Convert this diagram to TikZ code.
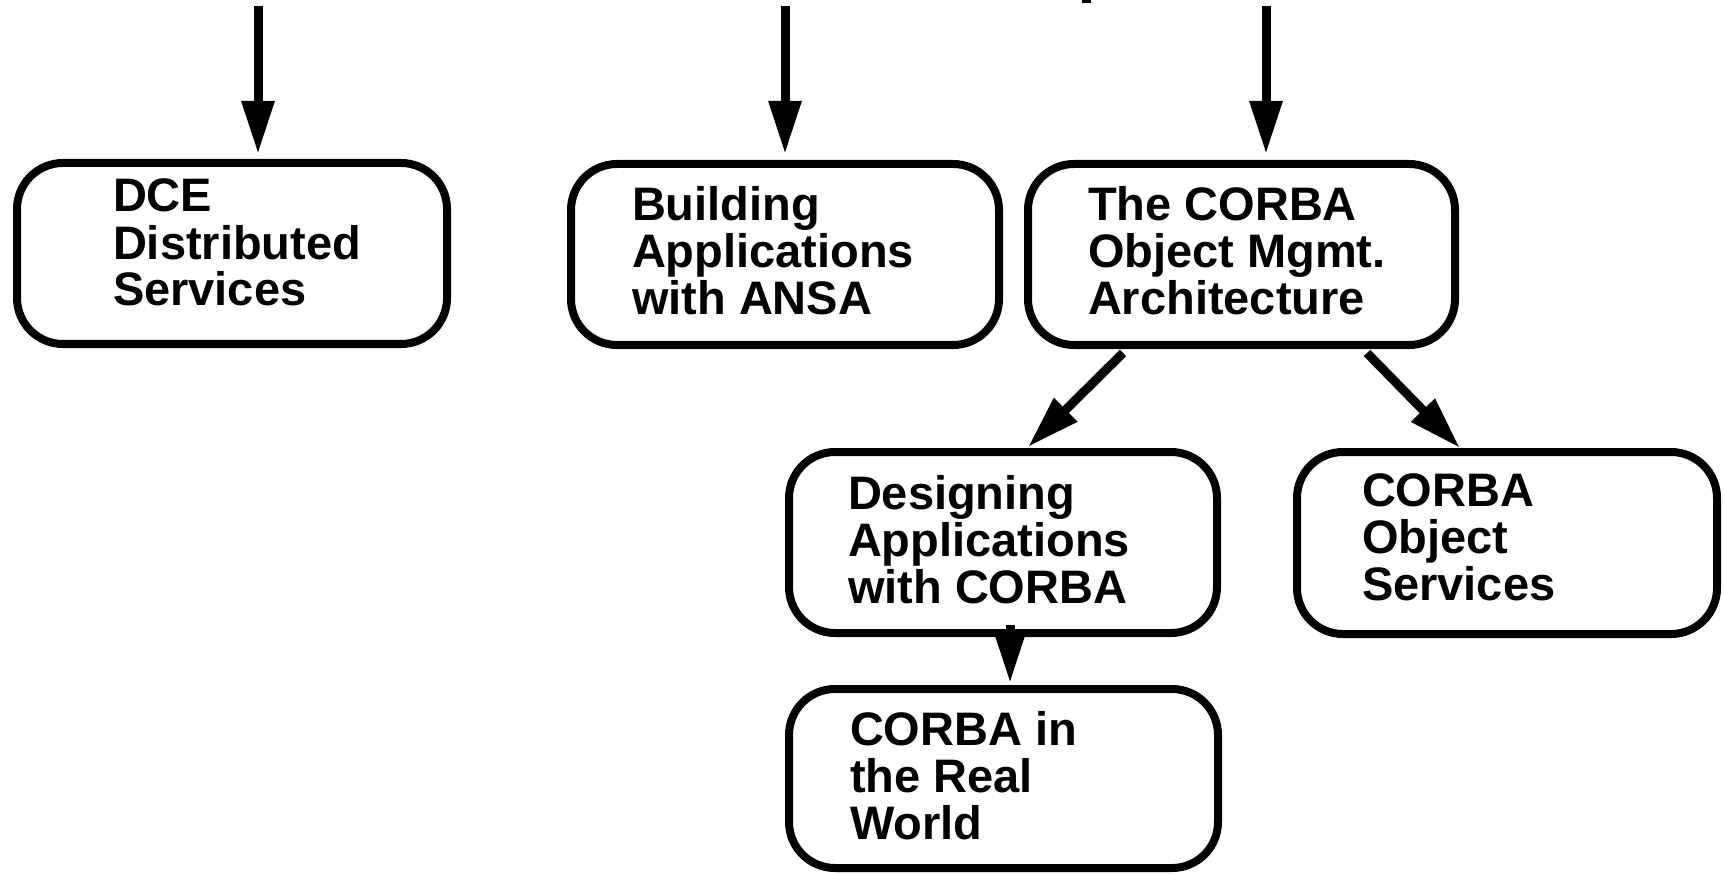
\documentclass[tikz,border=0pt]{standalone}
\usepackage{fontspec}
\setmainfont{Liberation Sans}
\usetikzlibrary{arrows.meta,calc}
\begin{document}
\begin{tikzpicture}[x=1pt,y=-1pt,
  box/.style={draw=black,line width=8pt,rounded corners=46pt,rectangle,inner sep=0pt,outer sep=0pt},
  lbl/.style={anchor=base west,align=left,inner sep=0pt,outer sep=0pt,font=\fontsize{47}{47}\selectfont\bfseries},
  arr/.style={line width=9pt,-{Triangle[length=53pt,width=31pt]}}]
\useasboundingbox (0,0) rectangle (1723,874);
% boxes
\node[box,minimum width=430pt,minimum height=181pt] (dce) at (232,253.5) {};
\node[box,minimum width=428pt,minimum height=181pt] (bld) at (785,254.5) {};
\node[box,minimum width=427pt,minimum height=181pt] (oma) at (1241.5,254.5) {};
\node[box,minimum width=428pt,minimum height=181pt] (des) at (1003,542.5) {};
\node[box,minimum width=420pt,minimum height=182pt] (cos) at (1507,543) {};
\node[box,minimum width=429pt,minimum height=179pt] (crw) at (1003.5,778.5) {};
% texts (anchored at the baseline of the last line)
\node[lbl] (tdce) at (113,306) {DCE\\Distributed\\Services};
\node[lbl] (tbld) at (632,315) {Building\\Applications\\with ANSA};
\node[lbl] (toma) at (1088,315) {The CORBA\\Object Mgmt.\\Architecture};
\node[lbl] (tdes) at (848,603) {Designing\\Applications\\with CORBA};
\node[lbl] (tcos) at (1362,600) {CORBA\\Object\\Services};
\node[lbl] (tcrw) at (850,839) {CORBA in\\the Real\\World};
% free ends of the incoming arrows
\coordinate (in1) at (258,6);
\coordinate (in2) at (785,6);
\coordinate (in3) at (1266,6);
\draw[arr] (in1) -- ($(dce.north)+(26,-9)$);
\draw[arr] (in2) -- ($(bld.north)+(0,-10)$);
\draw[arr] (in3) -- ($(oma.north)+(24.5,-10)$);
\draw[arr] ($(oma.south)+(-118.5,8)$) -- ($(des.north)+(25,-5)$);
\draw[arr] ($(oma.south)+(125.5,8)$) -- ($(cos.north)+(-47,-4)$);
\draw[arr] ($(des.south)+(7,-8)$) -- ($(crw.north)+(6.5,-6)$);
% fragment at the top edge
\fill (1082,0) rectangle (1091,3);
\end{tikzpicture}
\end{document}
